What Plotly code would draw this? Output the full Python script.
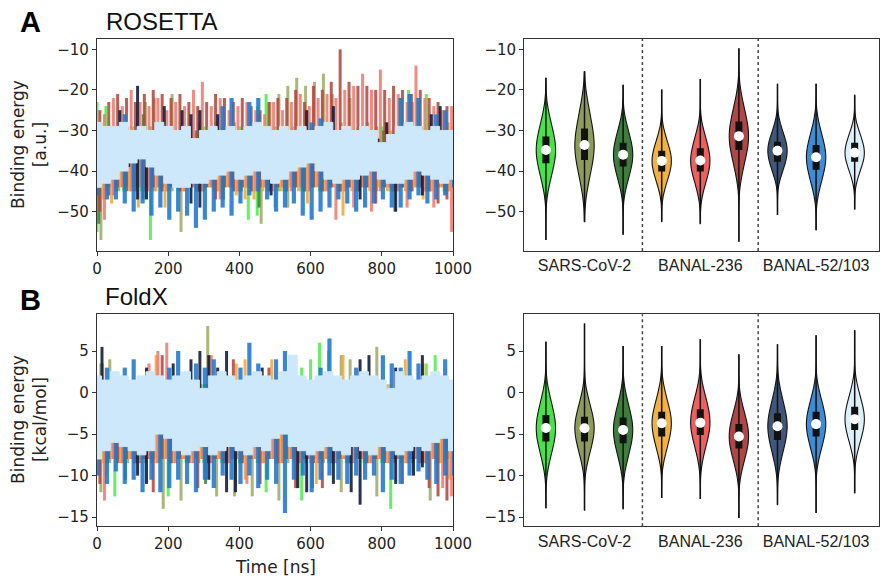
import plotly.graph_objects as go

# ---------------- DATA ----------------
time_ns = list(range(0, 1001, 25))  # 41 sampling times [ns]

series_names = ["SARS-CoV-2 r1", "SARS-CoV-2 r2", "SARS-CoV-2 r3",
                "BANAL-236 r1", "BANAL-236 r2", "BANAL-236 r3",
                "BANAL-52/103 r1", "BANAL-52/103 r2", "BANAL-52/103 r3"]
group_labels = ["SARS-CoV-2", "BANAL-236", "BANAL-52/103"]
group_tick_pos = [1, 4, 7]

# ROSETTA time series: upper / lower excursions read at each sampling time
ros_green_hi = [-23,-24,-29,-30,-29,-30,-29,-30,-29,-30, -29,-30,-29,-30,-29,-30,-29,-30,-24,-21, -29,-30,-29,-30,-29,-30,-29,-30,-29,-30, -29,-30,-29,-30,-22,-20,-23,-21,-29,-30, -29]
ros_green_lo = [-55,-45,-44,-45,-44,-45,-57,-44,-45,-44, -45,-44,-45,-44,-45,-44,-45,-52,-51,-44, -49,-45,-44,-45,-44,-45,-44,-45,-44,-45, -44,-45,-44,-45,-44,-45,-44,-45,-44,-45, -44]
ros_olive_hi = [-28,-29,-28,-29,-28,-23,-22,-29,-21,-28, -29,-28,-29,-28,-29,-28,-29,-28,-29,-23, -21,-19,-17,-19,-18,-16,-21,-28,-22,-29, -28,-29,-28,-29,-28,-23,-29,-28,-29,-28, -29]
ros_olive_lo = [-57,-44,-45,-44,-45,-44,-45,-44,-45,-55, -44,-45,-44,-45,-44,-45,-44,-45,-53,-44, -45,-49,-44,-45,-44,-45,-44,-45,-44,-45, -44,-45,-44,-50,-44,-45,-44,-45,-44,-45, -44]
ros_dgreen_hi = [-31,-30,-32,-31,-30,-26,-31,-32,-30,-31, -32,-30,-31,-32,-30,-31,-32,-30,-26,-31, -30,-32,-31,-30,-32,-31,-30,-31,-32,-30, -31,-32,-30,-31,-32,-30,-31,-32,-30,-31, -32]
ros_dgreen_lo = [-53,-44,-45,-44,-45,-47,-44,-45,-44,-45, -44,-45,-44,-45,-47,-44,-45,-44,-49,-45, -44,-45,-44,-45,-44,-45,-44,-45,-44,-45, -44,-45,-44,-45,-44,-45,-44,-45,-44,-45, -44]
ros_orange_hi = [-31,-32,-30,-31,-32,-30,-31,-32,-30,-31, -32,-30,-31,-32,-30,-31,-32,-30,-31,-32, -30,-31,-32,-30,-31,-32,-30,-31,-32,-30, -31,-32,-30,-31,-32,-30,-31,-32,-30,-31, -32]
ros_orange_lo = [-47,-48,-44,-45,-49,-44,-45,-49,-44,-45, -44,-45,-44,-45,-44,-46,-47,-47,-45,-44, -45,-44,-45,-48,-44,-45,-44,-51,-45,-44, -45,-44,-45,-44,-45,-44,-47,-45,-44,-45, -44]
ros_salmon_hi = [-26,-22,-24,-20,-23,-24,-22,-25,-23,-24, -20,-18,-24,-22,-25,-24,-23,-25,-26,-23, -25,-23,-21,-24,-22,-21,-22,-20,-19,-16, -20,-15,-22,-21,-23,-14,-22,-24,-25,-24, -26]
ros_salmon_lo = [-52,-46,-44,-45,-44,-45,-44,-45,-44,-45, -44,-45,-44,-47,-44,-45,-44,-45,-44,-45, -44,-45,-44,-45,-44,-45,-52,-45,-49,-44, -50,-45,-44,-45,-49,-44,-45,-49,-44,-55, -57]
ros_dred_hi = [-25,-23,-21,-22,-23,-21,-20,-21,-22,-21, -23,-24,-23,-21,-22,-23,-22,-24,-25,-23, -22,-22,-20,-23,-19,-20,-18,-10,-18,-19, -19,-20,-20,-19,-20,-21,-20,-22,-23,-24, -25]
ros_dred_lo = [-50,-46,-44,-45,-44,-45,-44,-45,-44,-45, -44,-45,-44,-47,-44,-45,-44,-45,-44,-45, -44,-45,-44,-45,-44,-45,-44,-45,-44,-45, -44,-48,-44,-45,-44,-45,-44,-45,-48,-47, -50]
ros_navy_hi = [-31,-32,-25,-31,-19,-32,-31,-24,-32,-25, -26,-25,-32,-26,-31,-32,-31,-32,-31,-32, -31,-32,-31,-25,-32,-31,-24,-32,-31,-32, -31,-32,-28,-31,-32,-31,-32,-26,-24,-31, -27]
ros_navy_lo = [-40,-39,-40,-39,-47,-47,-39,-40,-39,-40, -48,-49,-39,-40,-39,-38,-39,-40,-38,-46, -40,-39,-38,-37,-36,-38,-40,-39,-40,-47, -39,-38,-39,-50,-40,-39,-46,-39,-40,-41, -40]
ros_blue_hi = [-31,-32,-31,-26,-32,-31,-32,-31,-32,-31, -32,-33,-31,-32,-24,-22,-31,-23,-22,-31, -32,-31,-32,-31,-28,-27,-32,-31,-32,-31, -32,-31,-33,-32,-22,-21,-22,-31,-26,-25, -31]
ros_blue_lo = [-46,-47,-47,-48,-50,-48,-51,-49,-52,-50, -51,-54,-52,-50,-49,-51,-48,-46,-45,-47, -50,-49,-48,-51,-52,-50,-49,-47,-48,-50, -49,-48,-47,-49,-49,-47,-46,-48,-47,-46, -44]
ros_lblue_hi = [-28,-29,-29,-28,-30,-29,-30,-28,-29,-30, -29,-32,-30,-29,-30,-29,-30,-29,-28,-29, -30,-29,-30,-29,-30,-29,-28,-30,-29,-30, -29,-30,-33,-31,-29,-28,-29,-30,-29,-30, -30]
ros_lblue_lo = [-44,-43,-42,-40,-38,-37,-39,-41,-43,-44, -44,-43,-43,-42,-41,-40,-42,-41,-40,-42, -43,-42,-40,-39,-38,-40,-42,-43,-42,-42, -41,-40,-42,-43,-43,-42,-40,-41,-42,-43, -42]

# FoldX time series
fx_green_hi = [1.0,0.5,1.0,0.5,1.0,0.5,1.0,0.5,1.0,0.5, 1.0,0.5,1.0,0.5,1.0,0.5,1.0,0.5,1.0,0.5, 1.0,0.5,1.0,3.0,4.0,6.0,5.0,1.0,0.5,1.0, 0.5,1.0,0.5,1.0,0.5,1.0,0.5,3.5,4.5,1.0, 0.5]
fx_green_lo = [-8.0,-10.0,-12.5,-8.5,-8.0,-8.5,-8.0,-8.5,-12.5,-8.0, -8.5,-8.0,-8.5,-8.0,-8.5,-8.0,-8.5,-8.0,-8.5,-12.0, -8.0,-8.5,-8.0,-13.0,-8.5,-8.0,-8.5,-8.0,-8.5,-8.0, -8.5,-8.0,-8.5,-14.0,-8.0,-8.5,-8.0,-8.5,-8.0,-8.5, -8.0]
fx_olive_hi = [3.5,4.0,1.0,0.5,1.0,0.5,1.0,0.5,1.0,0.5, 1.0,0.5,8.0,1.0,0.5,1.0,0.5,1.0,0.5,1.0, 0.5,1.0,0.5,1.0,0.5,1.0,0.5,4.5,4.0,1.0, 0.5,5.5,1.0,0.5,1.0,0.5,1.0,0.5,1.0,0.5, 1.0]
fx_olive_lo = [-12.0,-8.5,-8.0,-8.5,-8.0,-8.5,-8.0,-14.0,-8.5,-13.0, -8.0,-8.5,-8.0,-12.5,-8.5,-12.5,-8.0,-12.5,-8.5,-8.0, -13.0,-8.5,-8.0,-8.5,-8.0,-8.5,-8.0,-12.0,-8.5,-8.0, -8.5,-12.5,-8.0,-8.5,-8.0,-8.5,-8.0,-13.0,-8.5,-8.0, -8.5]
fx_dgreen_hi = [1.0,0.5,1.0,0.5,1.0,0.5,1.0,0.5,1.0,0.5, 1.0,0.5,1.0,0.5,1.0,0.5,1.0,0.5,1.0,0.5, 1.0,0.5,1.0,0.5,1.0,0.5,1.0,0.5,1.0,0.5, 1.0,0.5,1.0,0.5,1.0,0.5,1.0,0.5,1.0,0.5, 1.0]
fx_dgreen_lo = [-8.0,-8.5,-8.0,-10.5,-8.5,-8.0,-8.5,-8.0,-8.5,-8.0, -8.5,-8.0,-11.0,-8.0,-8.5,-8.0,-8.5,-8.0,-8.5,-8.0, -8.5,-8.0,-8.5,-8.0,-11.5,-8.0,-8.5,-8.0,-8.5,-8.0, -8.5,-8.0,-8.5,-8.0,-8.5,-8.0,-8.5,-8.0,-8.5,-8.0, -11.0]
fx_orange_hi = [3.5,1.0,0.5,1.0,0.5,1.0,4.5,1.0,0.5,1.0, 0.5,1.0,0.5,1.0,0.5,3.5,4.0,1.0,0.5,4.0, 1.0,0.5,1.0,0.5,1.0,0.5,1.0,4.5,1.0,0.5, 1.0,0.5,1.0,0.5,4.0,1.0,3.5,0.5,1.0,0.5, 1.0]
fx_orange_lo = [-8.5,-8.0,-8.5,-8.0,-8.5,-8.0,-8.5,-8.0,-8.5,-8.0, -8.5,-8.0,-8.5,-8.0,-8.5,-8.0,-10.5,-8.0,-8.5,-8.0, -8.5,-8.0,-8.5,-8.0,-11.0,-8.0,-8.5,-8.0,-8.5,-8.0, -8.5,-8.0,-8.5,-8.0,-8.5,-8.0,-8.5,-8.0,-8.5,-10.5, -11.5]
fx_salmon_hi = [1.0,0.5,1.0,0.5,1.0,3.5,5.0,6.0,1.0,0.5, 1.0,0.5,4.5,1.0,0.5,1.0,0.5,1.0,0.5,1.0, 0.5,1.0,0.5,1.0,0.5,1.0,0.5,1.0,0.5,1.0, 0.5,1.0,0.5,1.0,0.5,1.0,0.5,1.0,0.5,1.0, 3.0]
fx_salmon_lo = [-13.0,-8.0,-8.5,-8.0,-8.5,-8.0,-8.5,-8.0,-8.5,-8.0, -8.5,-8.0,-8.5,-8.0,-8.5,-8.0,-11.0,-8.0,-8.5,-8.0, -8.5,-8.0,-8.5,-8.0,-8.5,-8.0,-8.5,-8.0,-8.5,-8.0, -8.5,-8.0,-8.5,-8.0,-8.5,-8.0,-8.5,-8.0,-11.5,-12.5, -13.5]
fx_dred_hi = [0.5,1.0,0.5,1.0,0.5,1.0,0.5,4.5,1.0,0.5, 1.0,0.5,1.0,0.5,1.0,4.0,0.5,1.0,0.5,3.0, 1.0,0.5,1.0,0.5,1.0,0.5,1.0,0.5,1.0,0.5, 1.0,0.5,1.0,0.5,1.0,0.5,1.0,0.5,1.0,0.5, 3.0]
fx_dred_lo = [-11.0,-8.0,-8.5,-8.0,-8.5,-8.0,-12.0,-8.0,-8.5,-8.0, -8.5,-11.5,-8.5,-8.0,-8.5,-8.0,-8.5,-8.0,-11.0,-8.0, -8.5,-8.0,-11.5,-8.0,-8.5,-11.5,-8.5,-8.0,-8.5,-8.0, -8.5,-8.0,-8.5,-8.0,-11.0,-8.0,-8.5,-11.5,-12.5,-13.0, -14.5]
fx_navy_hi = [5.5,0.5,0.0,0.5,0.0,3.0,0.5,0.0,3.5,0.5, 4.0,5.0,4.5,3.0,5.0,0.5,0.0,0.5,3.0,0.0, 0.5,0.0,0.5,0.0,0.5,0.0,0.5,0.0,0.5,4.0, 4.5,0.0,0.5,3.0,0.0,0.5,4.5,0.0,0.5,0.0, 0.5]
fx_navy_lo = [-4.5,-4.5,-4.5,-4.5,-10.0,-11.0,-4.5,-4.5,-4.5,-4.5, -4.5,-4.5,-10.5,-4.5,-12.0,-12.0,-4.5,-4.5,-4.5,-4.5, -4.5,-4.5,-11.5,-12.0,-4.5,-4.5,-11.0,-4.5,-12.0,-13.5, -4.5,-4.5,-4.5,-11.0,-4.5,-10.0,-9.0,-4.5,-4.5,-4.5, -4.5]
fx_blue_hi = [1.0,3.0,1.0,3.0,4.0,1.0,1.0,1.0,3.0,5.0, 1.0,3.5,3.0,4.0,1.0,1.0,3.0,6.0,3.5,1.0, 4.0,5.0,1.0,1.0,1.0,3.0,6.5,1.0,1.0,3.0, 1.0,1.0,4.5,3.5,3.0,5.0,3.5,1.0,1.0,4.0, 1.0]
fx_blue_lo = [-10.0,-11.0,-9.5,-11.0,-10.5,-12.0,-10.5,-12.0,-11.5,-10.5, -11.0,-12.0,-10.5,-11.5,-10.0,-10.5,-11.0,-10.0,-11.5,-10.5, -11.0,-14.5,-10.5,-10.0,-12.0,-10.5,-10.0,-10.5,-11.0,-10.0, -10.5,-10.0,-12.0,-10.5,-11.0,-10.0,-9.5,-10.5,-11.0,-10.0, -10.0]
fx_lblue_hi = [2.0,1.5,2.5,2.0,1.5,2.0,2.5,2.0,1.5,2.0, 2.5,1.5,0.5,2.0,2.5,2.0,1.5,2.0,2.5,2.0, 1.5,2.5,4.5,2.0,1.5,2.0,2.5,2.0,1.5,2.0, 2.5,2.0,1.5,0.5,2.5,2.0,1.5,2.0,2.5,2.0, 1.5]
fx_lblue_lo = [-8.0,-7.0,-6.0,-6.5,-7.0,-7.5,-7.0,-5.0,-5.5,-7.0, -7.5,-7.0,-6.5,-7.5,-7.0,-6.5,-7.0,-7.5,-6.5,-7.0, -5.5,-5.0,-6.5,-7.0,-7.5,-7.0,-6.5,-7.0,-7.5,-6.5, -7.0,-7.5,-6.5,-7.0,-7.5,-7.0,-6.5,-7.0,-6.0,-5.5, -7.0]

ros_hi = [ros_green_hi, ros_olive_hi, ros_dgreen_hi, ros_orange_hi, ros_salmon_hi, ros_dred_hi, ros_navy_hi, ros_blue_hi, ros_lblue_hi]
ros_lo = [ros_green_lo, ros_olive_lo, ros_dgreen_lo, ros_orange_lo, ros_salmon_lo, ros_dred_lo, ros_navy_lo, ros_blue_lo, ros_lblue_lo]
fx_hi = [fx_green_hi, fx_olive_hi, fx_dgreen_hi, fx_orange_hi, fx_salmon_hi, fx_dred_hi, fx_navy_hi, fx_blue_hi, fx_lblue_hi]
fx_lo = [fx_green_lo, fx_olive_lo, fx_dgreen_lo, fx_orange_lo, fx_salmon_lo, fx_dred_lo, fx_navy_lo, fx_blue_lo, fx_lblue_lo]

# Violin summaries (min, q1, median, q3, max) and distribution quantiles (p5..p95)
ros_min = [-57.0, -52.5, -55.7, -52.5, -53.0, -57.4, -50.8, -54.5, -49.4]
ros_q1  = [-38.1, -37.3, -38.9, -40.1, -40.1, -34.8, -37.7, -39.7, -37.7]
ros_med = [-34.8, -33.6, -36.0, -37.5, -37.4, -31.4, -35.0, -36.6, -35.5]
ros_q3  = [-31.5, -29.5, -33.0, -35.0, -34.4, -27.8, -32.8, -33.6, -33.0]
ros_max = [-17.1, -15.5, -18.8, -19.9, -17.3, -9.8, -18.5, -18.5, -21.3]
ros_quant = [
    [-42.9, -39.9, -38.1, -36.7, -35.4, -34.2, -32.9, -31.5, -29.7, -26.7],
    [-43.1, -39.6, -37.3, -35.8, -34.3, -32.9, -31.4, -29.5, -27.2, -23.8],
    [-43.2, -40.6, -38.9, -37.7, -36.6, -35.4, -34.3, -33.0, -31.4, -28.8],
    [-43.8, -41.4, -40.1, -39.0, -38.0, -37.0, -36.0, -35.0, -33.6, -31.2],
    [-44.3, -41.7, -40.1, -39.0, -37.9, -36.9, -35.8, -34.4, -32.9, -30.5],
    [-40.0, -36.8, -34.8, -33.4, -32.1, -30.7, -29.4, -27.8, -26.0, -22.8],
    [-40.9, -38.7, -37.7, -36.4, -35.5, -34.5, -33.6, -32.8, -31.3, -29.1],
    [-44.0, -41.3, -39.7, -38.3, -37.2, -36.0, -34.9, -33.6, -32.0, -29.2],
    [-41.2, -39.1, -37.7, -36.8, -35.9, -35.1, -34.2, -33.0, -31.9, -29.8],
]
fx_min = [-13.9, -14.2, -14.0, -12.7, -12.8, -15.1, -13.5, -14.5, -12.1]
fx_q1  = [-5.9, -5.9, -6.1, -5.3, -5.1, -6.75, -5.7, -5.3, -4.5]
fx_med = [-4.26, -4.3, -4.5, -3.7, -3.65, -5.3, -4.05, -3.8, -3.2]
fx_q3  = [-2.7, -2.9, -3.0, -2.3, -2.0, -3.8, -2.5, -2.3, -1.7]
fx_max = [6.1, 8.3, 5.6, 5.6, 6.4, 4.6, 5.8, 6.9, 7.5]
fx_quant = [
    [-8.2, -6.7, -5.9, -5.2, -4.6, -3.96, -3.35, -2.7, -1.8, -0.4],
    [-8.0, -6.6, -5.9, -5.1, -4.6, -4.0, -3.45, -2.9, -2.0, -0.7],
    [-8.3, -6.9, -6.1, -5.4, -4.8, -4.2, -3.6, -3.0, -2.1, -0.7],
    [-7.3, -6.0, -5.3, -4.5, -4.0, -3.4, -2.9, -2.3, -1.4, -0.1],
    [-7.4, -5.9, -5.1, -4.5, -3.9, -3.3, -2.7, -2.0, -1.3, 0.1],
    [-8.9, -7.6, -6.75, -6.1, -5.6, -5.0, -4.4, -3.8, -3.0, -1.7],
    [-7.95, -6.5, -5.7, -4.95, -4.35, -3.75, -3.15, -2.5, -1.6, -0.15],
    [-7.4, -6.1, -5.3, -4.6, -4.1, -3.5, -3.0, -2.3, -1.5, -0.2],
    [-6.6, -5.4, -4.5, -4.0, -3.5, -2.9, -2.4, -1.7, -1.0, 0.3],
]

# ---------------- STYLE ----------------
TS_COLORS = ['#4fee4f', '#a2ab68', '#3f8440', '#f5a83a', '#f27a72', '#b4493d', '#0d1b38', '#1f78d0', '#cde8fa']
TS_WIDTH = [3.0, 3.0, 3.0, 3.0, 3.0, 3.0, 3.0, 4.2]
VI_COLORS = ['#47e247', '#8d9c5a', '#3f7d3f', '#f2b243', '#ee6060', '#b04747', '#3f5679', '#3f8bd6', '#ddeffb']
SHIFT = [0, 11, 5, 16, 21, 8, 14, 3, 0]
TICK_FONT = dict(family='DejaVu Sans', size=15, color='#222')
W, H = 882, 581

fig = go.Figure()


def add_timeseries(hi_list, lo_list, xa, ya):
    for j in range(8):
        xs, ys = [], []
        for t, h, l in zip(time_ns, hi_list[j], lo_list[j]):
            xs += [t + SHIFT[j], t + SHIFT[j], None]
            ys += [h, l, None]
        fig.add_trace(go.Scatter(x=xs, y=ys, mode='lines', xaxis=xa, yaxis=ya,
                                 line=dict(color=TS_COLORS[j], width=TS_WIDTH[j]), opacity=0.88,
                                 name=series_names[j], showlegend=False, hoverinfo='skip'))
    # last replicate drawn on top as a dense band
    fig.add_trace(go.Scatter(x=time_ns, y=lo_list[8], mode='lines', xaxis=xa, yaxis=ya,
                             line=dict(color=TS_COLORS[8], width=1, shape='hvh'),
                             showlegend=False, hoverinfo='skip'))
    fig.add_trace(go.Scatter(x=time_ns, y=hi_list[8], mode='lines', xaxis=xa, yaxis=ya,
                             line=dict(color=TS_COLORS[8], width=1, shape='hvh'),
                             fill='tonexty', fillcolor=TS_COLORS[8],
                             name=series_names[8], showlegend=False, hoverinfo='skip'))


def add_violins(quant, mins, q1s, meds, q3s, maxs, xa, ya):
    for i in range(9):
        fig.add_trace(go.Violin(x=[i] * len(quant[i]), y=quant[i], xaxis=xa, yaxis=ya,
                                width=0.5, scalemode='width', spanmode='manual',
                                span=[mins[i], maxs[i]], fillcolor=VI_COLORS[i],
                                line=dict(color='#111', width=1.1), points=False,
                                box_visible=False, meanline_visible=False,
                                name=series_names[i], showlegend=False, hoverinfo='skip'))
    wx, wy, bx, by = [], [], [], []
    for i in range(9):
        wx += [i, i, None]
        wy += [mins[i], maxs[i], None]
        bx += [i, i, None]
        by += [q1s[i], q3s[i], None]
    fig.add_trace(go.Scatter(x=wx, y=wy, mode='lines', xaxis=xa, yaxis=ya,
                             line=dict(color='#111', width=1.5), showlegend=False, hoverinfo='skip'))
    fig.add_trace(go.Scatter(x=bx, y=by, mode='lines', xaxis=xa, yaxis=ya,
                             line=dict(color='#111', width=7), showlegend=False, hoverinfo='skip'))
    fig.add_trace(go.Scatter(x=list(range(9)), y=meds, mode='markers', xaxis=xa, yaxis=ya,
                             marker=dict(color='white', size=10, line=dict(width=0)),
                             showlegend=False, hoverinfo='skip'))
    for xb in (2.5, 5.5):
        fig.add_shape(type='line', xref=xa, yref=ya + ' domain', x0=xb, x1=xb, y0=0, y1=1,
                      line=dict(color='#444', width=1.5, dash='dot'))


add_timeseries(ros_hi, ros_lo, 'x', 'y')
add_violins(ros_quant, ros_min, ros_q1, ros_med, ros_q3, ros_max, 'x2', 'y2')
add_timeseries(fx_hi, fx_lo, 'x3', 'y3')
add_violins(fx_quant, fx_min, fx_q1, fx_med, fx_q3, fx_max, 'x4', 'y4')

xd_left = [97 / W, 453 / W]
xd_right = [524.3 / W, 879 / W]
yd_top = [1 - 251 / H, 1 - 39 / H]
yd_bot = [1 - 526.3 / H, 1 - 314.2 / H]

frame = dict(showline=True, linecolor='#333', linewidth=1.3, mirror=True,
             showgrid=False, zeroline=False, automargin=False, tickfont=TICK_FONT)
ts_x = dict(frame, range=[0, 1000], tickmode='linear', tick0=0, dtick=200,
            ticks='outside', ticklen=4, tickwidth=1.2, tickcolor='#333')
vi_x = dict(frame, range=[-0.56, 8.63], type='linear', tickmode='array',
            tickvals=group_tick_pos, ticktext=group_labels, ticks='',
            tickfont=dict(family='Liberation Sans', size=16, color='#222'))
y_common = dict(frame, ticks='outside', ticklen=4, tickwidth=1.2, tickcolor='#333', tickmode='linear', tick0=0)

fig.update_layout(
    width=W, height=H, margin=dict(l=0, r=0, t=0, b=0), autosize=False,
    paper_bgcolor='white', plot_bgcolor='white', showlegend=False,
    violinmode='overlay',
    xaxis=dict(ts_x, domain=xd_left, anchor='y'),
    yaxis=dict(y_common, domain=yd_top, anchor='x', range=[-59.7, -7.46], dtick=10),
    xaxis2=dict(vi_x, domain=xd_right, anchor='y2'),
    yaxis2=dict(y_common, domain=yd_top, anchor='x2', range=[-59.7, -7.46], dtick=10),
    xaxis3=dict(ts_x, domain=xd_left, anchor='y3'),
    yaxis3=dict(y_common, domain=yd_bot, anchor='x3', range=[-16.1, 9.43], dtick=5),
    xaxis4=dict(vi_x, domain=xd_right, anchor='y4'),
    yaxis4=dict(y_common, domain=yd_bot, anchor='x4', range=[-16.1, 9.43], dtick=5),
)

ann = [
    dict(text='<b>A</b>', x=30 / W, y=1 - 22 / H, font=dict(family='Liberation Sans', size=29, color='black')),
    dict(text='ROSETTA', x=104 / W, y=1 - 21 / H, xanchor='left', font=dict(family='Liberation Sans', size=24, color='#111')),
    dict(text='<b>B</b>', x=30 / W, y=1 - 300 / H, font=dict(family='Liberation Sans', size=29, color='black')),
    dict(text='FoldX', x=103 / W, y=1 - 296 / H, xanchor='left', font=dict(family='Liberation Sans', size=24, color='#111')),
    dict(text='Binding energy<br>[a.u.]', x=29 / W, y=1 - 145 / H, textangle=-90,
         font=dict(family='DejaVu Sans', size=17, color='#222')),
    dict(text='Binding energy<br>[kcal/mol]', x=29 / W, y=1 - 420 / H, textangle=-90,
         font=dict(family='DejaVu Sans', size=17, color='#222')),
    dict(text='Time [ns]', x=275 / W, y=1 - 567 / H, font=dict(family='DejaVu Sans', size=17, color='#222')),
]
for a in ann:
    a.setdefault('xanchor', 'center')
    fig.add_annotation(xref='paper', yref='paper', yanchor='middle', showarrow=False, **a)

fig.write_html('out.html', config={'displayModeBar': False},
               post_script="document.body.style.margin='0px';document.body.style.padding='0px';")
